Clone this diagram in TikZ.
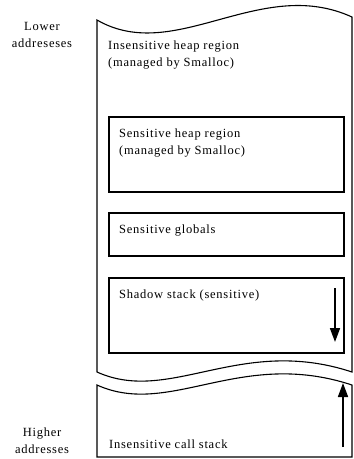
\documentclass[tikz,border=0pt]{standalone}
\usepackage{fontspec}
\setmainfont{Liberation Serif}[LetterSpace=6]
\usetikzlibrary{arrows.meta}
\begin{document}
\begin{tikzpicture}[x=1pt,y=-1pt,
    txt/.style={inner sep=0pt,anchor=base west,align=left,
      font=\fontsize{12.5}{17}\selectfont},
    sidetxt/.style={inner sep=0pt,anchor=base,align=center,
      font=\fontsize{12.5}{17}\selectfont},
    regionbox/.style={draw,line width=1.5pt,inner sep=0pt,anchor=north west,
      minimum width=235pt},
    memline/.style={line width=1.1pt},
    growarrow/.style={line width=1.6pt,-{Triangle[length=14pt,width=10pt]}}]
  \useasboundingbox (0,0) rectangle (354,459);
  \draw[memline] (97,20) .. controls (175,65) and (260,-25) .. (352,17)
    -- (352,372) .. controls (240,335) and (170,405) .. (97,372) -- cycle;
  \draw[memline] (97,385) .. controls (170,418) and (240,348) .. (352,385)
    -- (352,457) -- (97,457) -- cycle;
  \node (sheap) [regionbox,minimum height=75pt] at (108,116) {};
  \node (sglob) [regionbox,minimum height=43pt] at (108,212) {};
  \node (sstack) [regionbox,minimum height=75pt] at (108,277) {};
  \node (lower) [sidetxt] at (42,47) {Lower\\addreseses};
  \node (higher) [sidetxt] at (42,453) {Higher\\addresses};
  \node (iheap) [txt] at (108,66) {Insensitive heap region\\(managed by Smalloc)};
  \node (sheaptxt) [txt] at (119,154) {Sensitive heap region\\(managed by Smalloc)};
  \node (sglobtxt) [txt] at (119,233) {Sensitive globals};
  \node (sstacktxt) [txt] at (119,298) {Shadow stack (sensitive)};
  \node (icall) [txt] at (109,448) {Insensitive call stack};
  \coordinate (downtop) at (335,288);
  \coordinate (downend) at (335,342);
  \coordinate (uptop) at (343,447);
  \coordinate (upend) at (343,383);
  \draw[growarrow] (downtop) -- (downend);
  \draw[growarrow] (uptop) -- (upend);
\end{tikzpicture}
\end{document}
